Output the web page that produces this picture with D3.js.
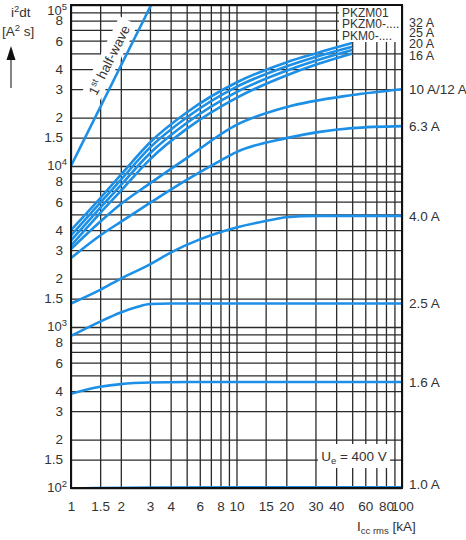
<!DOCTYPE html>
<html>
<head>
<meta charset="utf-8">
<script src="https://cdn.jsdelivr.net/npm/d3@7/dist/d3.min.js"></script>
<style>
  body { margin: 0; background: #fff; }
  svg { display: block; font-family: 'Liberation Sans', Arial, sans-serif; }
</style>
</head>
<body>
<svg id="chart" width="466" height="540"></svg>
<script>
// tick values / labels
const xTickValues = [1, 1.5, 2, 3, 4, 6, 8, 10, 15, 20, 30, 40, 60, 80, 100];
const xGridValues = [1, 1.5, 2, 3, 4, 5, 6, 7, 8, 9, 10, 15, 20, 30, 40, 50, 60, 70, 80, 90, 100];
const yMantissas = [1, 1.5, 2, 3, 4, 5, 6, 7, 8, 9];
const yLabelMantissas = [1, 1.5, 2, 3, 4, 6, 8];
const decades = [100, 1000, 10000];

// series: [Icc rms kA, i2dt A2s]
const halfWave = [[1, 10000], [3.05, 100000]];
const c32 = [[1, 4000], [1.5, 6300], [2, 8800], [3, 14000], [5, 21500], [10, 33000], [20, 44000], [30, 50000], [50, 58000]];
const c25 = [[1, 3700], [1.5, 5900], [2, 8200], [3, 13000], [5, 20000], [10, 31000], [20, 41500], [30, 47500], [50, 55000]];
const c20 = [[1, 3450], [1.5, 5500], [2, 7600], [3, 12000], [5, 18500], [10, 28800], [20, 39000], [30, 45000], [50, 52500]];
const c16 = [[1, 3200], [1.5, 5100], [2, 7000], [3, 11000], [5, 17000], [10, 26500], [20, 36500], [30, 42500], [50, 50000]];
const c10 = [[1, 3050], [1.5, 4500], [2, 5800], [3, 7800], [5, 11200], [10, 18000], [20, 23200], [50, 27600], [100, 30000]];
const c6_3 = [[1, 2680], [1.5, 3700], [2, 4500], [3, 5900], [5, 8200], [8, 10800], [10, 12200], [20, 14900], [50, 17200], [100, 17700]];
const c4_0 = [[1, 1400], [1.5, 1700], [2, 2000], [3, 2450], [4, 2900], [6, 3500], [10, 4150], [15, 4550], [20, 4800], [30, 4900], [100, 4900]];
const c2_5 = [[1, 880], [1.5, 1080], [2, 1230], [2.5, 1330], [3, 1390], [4, 1400], [100, 1400]];
const c1_6 = [[1, 385], [1.5, 425], [2, 442], [3, 452], [5, 455], [100, 455]];
const c1_0 = [[1, 99.5], [3, 100.8], [100, 101]];

const topLabels = ['32 A', '25 A', '20 A', '16 A'];
const endLabels = ['10 A/12 A', '6.3 A', '4.0 A', '2.5 A', '1.6 A', '1.0 A'];
const endSeries = [c10, c6_3, c4_0, c2_5, c1_6, c1_0];
const deviceNames = ['PKZM01', 'PKZM0-....', 'PKM0-....'];

const blue = '#1c8fe6';
const textCol = '#333';

const svg = d3.select('#chart');
svg.append('rect').attr('width', 466).attr('height', 540).attr('fill', '#fff');

const x = d3.scaleLog().domain([1, 100]).range([71, 402]);
const y = d3.scaleLog().domain([100, 100000]).range([488, 5]);
const [x0, x1] = x.range();
const [y0, y1] = y.range();

const yGridValues = decades.flatMap(d => yMantissas.map(m => m * d)).concat([100000]);
const yTickValues = decades.flatMap(d => yLabelMantissas.map(m => m * d)).concat([100000]);

svg.append('defs').append('clipPath').attr('id', 'plot')
  .append('rect').attr('x', x0).attr('y', y1).attr('width', x1 - x0).attr('height', y0 - y1);

// grid
const grid = svg.append('g');
grid.append('g')
  .attr('transform', `translate(0,${y0})`)
  .call(d3.axisBottom(x).tickValues(xGridValues).tickSize(-(y0 - y1)).tickFormat(''))
  .call(g => g.select('.domain').remove());
grid.append('g')
  .attr('transform', `translate(${x0},0)`)
  .call(d3.axisLeft(y).tickValues(yGridValues).tickSize(-(x1 - x0)).tickFormat(''))
  .call(g => g.select('.domain').remove());
grid.selectAll('line').attr('stroke', '#2b2b2b').attr('stroke-width', 1.3);

const plot = svg.append('g').attr('clip-path', 'url(#plot)');

// white boxes over the grid
svg.append('rect').attr('x', 339).attr('y', y1).attr('width', x1 - 339).attr('height', 37).attr('fill', '#fff');
svg.append('rect').attr('x', 318).attr('y', 444).attr('width', 72).attr('height', 24).attr('fill', '#fff');

const line = d3.line()
  .x(d => x(d[0]))
  .y(d => y(d[1]))
  .curve(d3.curveMonotoneX);

// 1st half-wave label along the line
const slope = Math.log(halfWave[1][1] / halfWave[0][1]) / Math.log(halfWave[1][0] / halfWave[0][0]);
const hx = x(2), hy = y(halfWave[0][1] * Math.pow(2, slope));
const ang = Math.atan2(y(halfWave[1][1]) - y(halfWave[0][1]), x(halfWave[1][0]) - x(halfWave[0][0])) * 180 / Math.PI;
const hw = svg.append('g').attr('transform', `translate(${hx},${hy}) rotate(${ang})`);
const hwText = hw.append('text')
  .attr('y', -13).attr('dy', '0.35em')
  .attr('text-anchor', 'middle')
  .attr('font-size', 13.5).attr('fill', textCol);
hwText.append('tspan').text('1');
hwText.append('tspan').attr('font-size', 9).attr('dy', -5).text('st');
hwText.append('tspan').attr('dy', 5).text(' half-wave');
const bb = hwText.node().getBBox();
hw.insert('rect', 'text')
  .attr('x', bb.x - 6).attr('y', bb.y - 2)
  .attr('width', bb.width + 12).attr('height', bb.height + 4)
  .attr('fill', '#fff');

const curves = [halfWave, c32, c25, c20, c16, c10, c6_3, c4_0, c2_5, c1_6, c1_0];
plot.selectAll('path.curve')
  .data(curves)
  .join('path')
  .attr('class', 'curve')
  .attr('d', line)
  .attr('fill', 'none')
  .attr('stroke', blue)
  .attr('stroke-width', 2.6);

// frame
svg.append('rect')
  .attr('x', x0).attr('y', y1).attr('width', x1 - x0).attr('height', y0 - y1)
  .attr('fill', 'none').attr('stroke', '#111').attr('stroke-width', 2);

// x tick labels
svg.append('g')
  .attr('transform', `translate(0,${y0})`)
  .call(d3.axisBottom(x).tickValues(xTickValues).tickSize(0).tickPadding(13).tickFormat(d3.format('')))
  .call(g => g.select('.domain').remove())
  .call(g => g.selectAll('text').attr('font-size', 13.5).attr('font-family', null).attr('fill', textCol));

// y tick labels
const yAxis = svg.append('g')
  .attr('transform', `translate(${x0},0)`)
  .call(d3.axisLeft(y).tickValues(yTickValues).tickSize(0).tickPadding(8)
    .tickFormat(d => {
      const m = d / Math.pow(10, Math.floor(Math.log10(d) + 1e-9));
      return Math.abs(m - 1) < 1e-6 ? '' : d3.format('')(Math.round(m * 10) / 10);
    }))
  .call(g => g.select('.domain').remove())
  .call(g => g.selectAll('text').attr('font-size', 13.5).attr('font-family', null).attr('fill', textCol));

yAxis.selectAll('.tick text')
  .filter(d => Math.abs(Math.log10(d) - Math.round(Math.log10(d))) < 1e-6)
  .each(function (d) {
    const t = d3.select(this);
    const e = Math.round(Math.log10(d));
    t.append('tspan').text('10');
    t.append('tspan').attr('font-size', 9.5).attr('dy', '-0.45em').text(e);
    t.attr('x', -4).attr('y', e === 5 ? 5 : -1).attr('font-size', 13);
  });

// right-hand labels
const rl = svg.append('g').attr('font-size', 12.5).attr('fill', textCol);
rl.selectAll('text.top')
  .data(topLabels)
  .join('text')
  .attr('class', 'top')
  .attr('x', 409)
  .attr('y', (d, i) => [22.5, 33, 44, 56][i])
  .attr('dy', '0.35em')
  .text(d => d);
rl.selectAll('text.end')
  .data(endLabels)
  .join('text')
  .attr('class', 'end')
  .attr('x', 409)
  .attr('y', (d, i) => y(endSeries[i][endSeries[i].length - 1][1]) - (i === 5 ? 3 : 0))
  .attr('dy', '0.35em')
  .attr('font-size', 13.5)
  .text(d => d);

// device names box
svg.append('g').attr('font-size', 12).attr('fill', textCol)
  .selectAll('text')
  .data(deviceNames)
  .join('text')
  .attr('x', 342)
  .attr('y', (d, i) => 17 + i * 11.3)
  .text(d => d);

// Ue
const ue = svg.append('text').attr('x', 354).attr('y', 461).attr('text-anchor', 'middle')
  .attr('font-size', 13.5).attr('fill', textCol);
ue.append('tspan').text('U');
ue.append('tspan').attr('font-size', 9.5).attr('dy', 3).text('e');
ue.append('tspan').attr('dy', -3).text(' = 400 V');

// x axis title
const xt = svg.append('text').attr('x', 357).attr('y', 531).attr('font-size', 13.5).attr('fill', textCol);
xt.append('tspan').text('I');
xt.append('tspan').attr('font-size', 9.5).attr('dy', 3).text('cc rms');
xt.append('tspan').attr('dy', -3).text(' [kA]');

// y axis title + arrow
const yt1 = svg.append('text').attr('x', 11).attr('y', 17).attr('font-size', 13.5).attr('fill', textCol);
yt1.append('tspan').text('i');
yt1.append('tspan').attr('font-size', 9.5).attr('dy', -5).text('2');
yt1.append('tspan').attr('dy', 5).text('dt');
const yt2 = svg.append('text').attr('x', 2).attr('y', 36).attr('font-size', 13.5).attr('fill', textCol);
yt2.append('tspan').text('[A');
yt2.append('tspan').attr('font-size', 9.5).attr('dy', -5).text('2');
yt2.append('tspan').attr('dy', 5).text(' s]');
svg.append('line').attr('x1', 11).attr('x2', 11).attr('y1', 58).attr('y2', 88)
  .attr('stroke', '#333').attr('stroke-width', 1.2);
svg.append('path').attr('d', 'M6.5,60 L11,46 L15.5,60 Z').attr('fill', '#111');
</script>
</body>
</html>
